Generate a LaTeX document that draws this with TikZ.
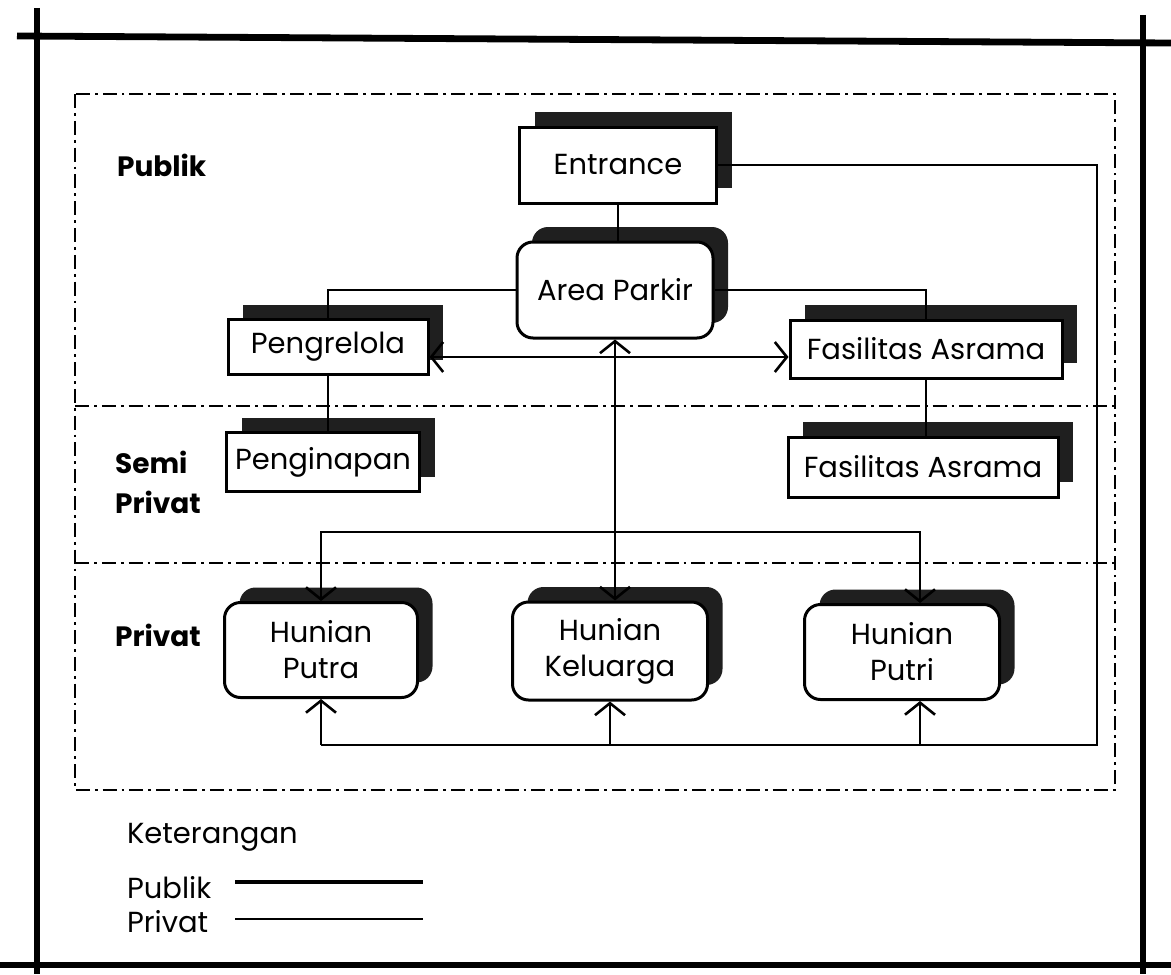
\documentclass[tikz,border=0pt]{standalone}
\usepackage{fontspec}
\setmainfont{Poppins}
\usetikzlibrary{arrows.meta,shadows}
\tikzset{
  room/.style={draw,line width=1.5pt,fill=white,inner sep=0pt,align=center,
    drop shadow={shadow xshift=7.5pt,shadow yshift=7.5pt,fill=black!88,opacity=1}},
  roundroom/.style={room,rounded corners=8pt},
  zone/.style={line width=1.4pt,dash pattern=on 7pt off 2.5pt on 1.4pt off 2.5pt},
  link/.style={line width=1.3pt},
  frame/.style={line width=3.4pt},
  zonelbl/.style={anchor=west,font=\fontsize{14pt}{20pt}\selectfont\bfseries,align=left}
}
\begin{document}
\begin{tikzpicture}[x=0.5pt,y=-0.5pt,
    font=\fontsize{14.5pt}{18pt}\selectfont,
    >={Straight Barb[length=6pt,width=15pt]}]
  \useasboundingbox (0,0) rectangle (1171,974);
  % sheet border
  \draw[frame] (17,36) -- (1171,43);
  \draw[frame] (37,8) -- (37,974);
  \draw[frame] (1143,15) -- (1143,974);
  \draw[frame] (0,965) -- (1171,965);
  % zones
  \draw[zone] (75,94) rectangle (1115,790);
  \draw[zone] (75,406) -- (1115,406);
  \draw[zone] (75,563) -- (1115,563);
  \node[zonelbl] (zpublik) at (110,165) {Publik};
  \node[zonelbl] (zsemi) at (108,482) {Semi\\Privat};
  \node[zonelbl] (zprivat) at (108,635) {Privat};
  % rooms
  \node[room,minimum width=98.5pt,minimum height=38pt] (entrance) at (618,165) {Entrance};
  \node[roundroom,minimum width=98pt,minimum height=48pt] (parkir) at (615,290) {Area Parkir};
  \node[room,minimum width=100pt,minimum height=27.5pt] (pengelola) at (328,347) {Pengrelola};
  \node[room,minimum width=96.5pt,minimum height=29.5pt] (penginapan) at (323,462) {Penginapan};
  \node[room,minimum width=136pt,minimum height=29pt] (fasilitas) at (926,349) {Fasilitas Asrama};
  \node[room,minimum width=135pt,minimum height=30pt] (fasilitas2) at (923,467) {Fasilitas Asrama};
  \node[roundroom,minimum width=96.5pt,minimum height=47.5pt] (putra) at (321,650) {Hunian\\Putra};
  \node[roundroom,minimum width=97.5pt,minimum height=49pt] (keluarga) at (610,651) {Hunian\\Keluarga};
  \node[roundroom,minimum width=97.5pt,minimum height=47.5pt] (putri) at (902,652) {Hunian\\Putri};
  % connections
  \coordinate (rbus) at (1097,745);
  \coordinate (split) at (612,532);
  \coordinate (putriin) at ([xshift=9pt]putri.south);
  \coordinate (putritop) at ([xshift=9pt]putri.north);
  \draw[link] (entrance.south) -- (entrance.south |- parkir.north);
  \draw[link] (parkir.west) -| (pengelola.north);
  \draw[link] (parkir.east) -| (fasilitas.north);
  \draw[link] (pengelola.south) -- (pengelola.south |- penginapan.north);
  \draw[link] (fasilitas.south) -- (fasilitas.south |- fasilitas2.north);
  \draw[link,<->] ([yshift=-5pt]pengelola.east) -- ([yshift=-5pt]pengelola.east -| fasilitas.west);
  \draw[link,<->] (parkir.south) -- (parkir.south |- keluarga.north);
  \draw[link,->] (split) -| (putra.north);
  \draw[link,->] (split) -| (putritop);
  \draw[link] (entrance.east) -| (rbus) -- (rbus -| putra.south);
  \draw[link,->] (putra.south |- rbus) -- (putra.south);
  \draw[link,->] (keluarga.south |- rbus) -- (keluarga.south);
  \draw[link,->] (putriin |- rbus) -- (putriin);
  % legend
  \node[anchor=west] (ket) at (120,837) {Keterangan};
  \node[anchor=west] (lpublik) at (120,888) {Publik};
  \node[anchor=west] (lprivat) at (120,922) {Privat};
  \coordinate (lp1) at (235,882);
  \coordinate (lq1) at (235,919);
  \draw[line width=1.8pt] (lp1) -- ++(188,0);
  \draw[line width=1pt] (lq1) -- ++(188,0);
\end{tikzpicture}
\end{document}
